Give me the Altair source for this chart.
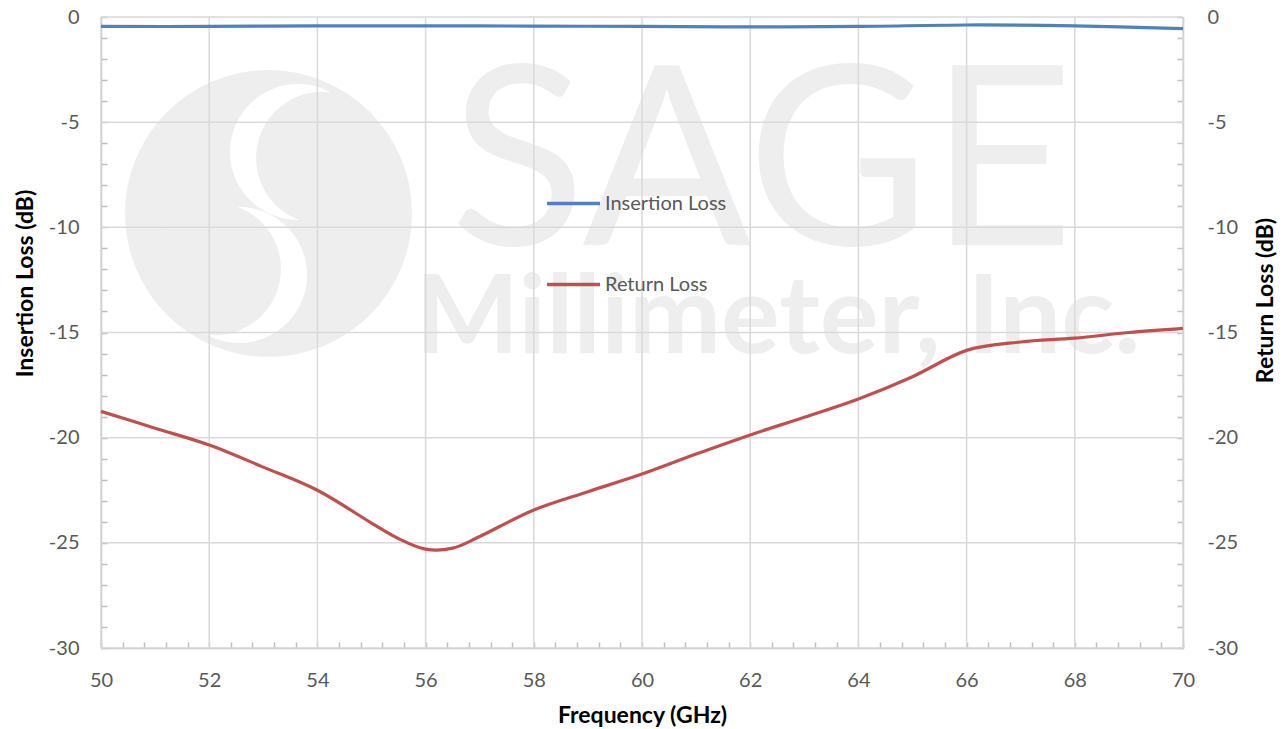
import altair as alt
import pandas as pd

# ---------------- data ----------------
series_names = ["Insertion Loss", "Return Loss"]
series_colors = ["#4F81BD", "#C0504D"]

il_freq = [50, 52, 54, 56, 58, 60, 62, 64, 66, 68, 70]
il_val = [-0.45, -0.45, -0.42, -0.42, -0.43, -0.45, -0.47, -0.45, -0.38, -0.42, -0.55]

rl_freq = [50, 51, 52, 53, 54, 55, 55.5, 56, 56.5, 57, 58, 59, 60, 61, 62, 63, 64, 65, 66, 67, 68, 69, 70]
rl_val = [-18.75, -19.55, -20.35, -21.4, -22.5, -24.06, -24.8, -25.3, -25.25, -24.7, -23.44, -22.57,
          -21.73, -20.78, -19.87, -19.03, -18.16, -17.1, -15.85, -15.45, -15.27, -15.0, -14.8]

x_major = [50, 52, 54, 56, 58, 60, 62, 64, 66, 68, 70]
x_minor = [50, 50.4, 50.8, 51.2, 51.6, 52, 52.4, 52.8, 53.2, 53.6, 54, 54.4, 54.8, 55.2, 55.6, 56,
           56.4, 56.8, 57.2, 57.6, 58, 58.4, 58.8, 59.2, 59.6, 60, 60.4, 60.8, 61.2, 61.6, 62, 62.4,
           62.8, 63.2, 63.6, 64, 64.4, 64.8, 65.2, 65.6, 66, 66.4, 66.8, 67.2, 67.6, 68, 68.4, 68.8,
           69.2, 69.6, 70]
y_major = [-30, -25, -20, -15, -10, -5, 0]
y_minor = list(range(-30, 1))

# watermark decoration (logo + company name)
wm_text = ["SAGE", "Millimeter, Inc."]

df = pd.concat([
    pd.DataFrame({"freq": il_freq, "val": il_val, "series": series_names[0]}),
    pd.DataFrame({"freq": rl_freq, "val": rl_val, "series": series_names[1]}),
])

FONT = "Lato"
LABEL_COLOR = "#595959"
GRID = "#d9d9d9"
DOMAIN = "#bfbfbf"
WM = "#eeeeee"

xs = alt.Scale(domain=[50, 70], nice=False, zero=False)
ys = alt.Scale(domain=[-30, 0], nice=False, zero=False)


def X(field="freq:Q", axis=None):
    return alt.X(field, scale=xs, axis=axis)


def Y(field="val:Q", axis=None):
    return alt.Y(field, scale=ys, axis=axis)


# ---------------- watermark ----------------
def disc(f, v, diameter_px, color):
    return alt.Chart(pd.DataFrame({"freq": [f], "val": [v]})).mark_point(
        filled=True, shape="circle", opacity=1, strokeWidth=0, color=color,
        size=diameter_px * diameter_px,
    ).encode(x=X(), y=Y())


logo = [
    disc(53.096, -9.343, 287, WM),
    disc(53.641, -6.419, 136, "#ffffff"),
    disc(54.086, -6.704, 132, WM),
    disc(52.551, -12.265, 136, "#ffffff"),
    disc(52.107, -11.98, 132, WM),
]

wm_df = pd.DataFrame({"t": wm_text, "freq": [62.218, 62.51], "val": [-10.84, -15.975]})
wm1 = alt.Chart(wm_df.iloc[[0]]).mark_text(
    font=FONT, fontSize=250, fontWeight="normal", color=WM, baseline="alphabetic", align="center"
).encode(x=X(), y=Y(), text="t:N")
wm2 = alt.Chart(wm_df.iloc[[1]]).mark_text(
    font=FONT, fontSize=110, fontWeight="bold", color=WM, baseline="alphabetic", align="center"
).encode(x=X(), y=Y(), text="t:N")

# ---------------- grid ----------------
gx = alt.Chart(pd.DataFrame({"freq": x_major})).mark_rule(color=GRID, strokeWidth=1.5).encode(x=X())
gy = alt.Chart(pd.DataFrame({"val": y_major})).mark_rule(color=GRID, strokeWidth=1.5).encode(y=Y())

# ---------------- axes ----------------
base = alt.Chart(df).mark_line(opacity=0)
LBL = "toString(datum.value)"

main_axes = base.encode(
    x=X(axis=alt.Axis(orient="bottom", values=x_major, grid=False, ticks=False, tickSize=0,
                      domain=True, domainColor=DOMAIN, domainWidth=1.5, labelPadding=22,
                      labelFlush=False, labelExpr=LBL, title="Frequency (GHz)",
                      titleY=67, titleBaseline="middle")),
    y=Y(axis=alt.Axis(orient="left", values=y_major, grid=False, ticks=False, tickSize=0,
                      domain=True, domainColor=DOMAIN, domainWidth=1.5, labelPadding=22,
                      labelFlush=False, labelExpr=LBL, title="Insertion Loss (dB)",
                      titleX=-76, titleY=266, titleAngle=270, titleBaseline="middle",
                      titleAlign="center")),
)

right_axis = base.encode(
    x=X(),
    y=Y(axis=alt.Axis(orient="right", values=y_major, grid=False, ticks=False, tickSize=0,
                      domain=True, domainColor=DOMAIN, domainWidth=1.5, labelPadding=24,
                      labelFlush=False, labelExpr=LBL, title="Return Loss (dB)",
                      titleX=82, titleY=283, titleAngle=270, titleBaseline="middle",
                      titleAlign="center")),
)

minor_left_bottom = base.encode(
    x=X(axis=alt.Axis(orient="bottom", values=x_minor, grid=False, ticks=True, tickSize=6,
                      tickColor=DOMAIN, tickWidth=1.5, domain=False, labels=False, title=None,
                      offset=-6)),
    y=Y(axis=alt.Axis(orient="left", values=y_minor, grid=False, ticks=True, tickSize=6,
                      tickColor=DOMAIN, tickWidth=1.5, domain=False, labels=False, title=None,
                      offset=-6)),
)

minor_right = base.encode(
    x=X(),
    y=Y(axis=alt.Axis(orient="right", values=y_minor, grid=False, ticks=True, tickSize=6,
                      tickColor=DOMAIN, tickWidth=1.5, domain=False, labels=False, title=None,
                      offset=-6)),
)

# ---------------- data lines ----------------
lines = alt.Chart(df).mark_line(strokeWidth=3.2, interpolate="cardinal").encode(
    x=X(), y=Y(),
    color=alt.Color("series:N",
                    scale=alt.Scale(domain=series_names, range=series_colors),
                    legend=alt.Legend(orient="none", legendX=444, legendY=158, title=None,
                                      symbolType="stroke", symbolSize=2809,
                                      symbolStrokeWidth=3.5, labelFont=FONT, labelFontSize=20,
                                      labelColor=LABEL_COLOR, labelOffset=3, rowPadding=42,
                                      padding=0)),
    detail="series:N",
)

chart = alt.layer(
    *logo, wm1, wm2, gx, gy, main_axes, right_axis, minor_left_bottom, minor_right, lines
).resolve_scale(
    x="independent", y="independent"
).resolve_axis(
    x="independent", y="independent"
).properties(
    width=1082, height=631,
    autosize=alt.AutoSizeParams(type="none"),
    padding={"left": 93, "top": 9, "right": 95, "bottom": 80},
).configure_axis(
    labelFont=FONT, labelFontSize=20, labelColor=LABEL_COLOR,
    titleFont=FONT, titleFontSize=23, titleFontWeight="bold", titleColor="#000000",
).configure_view(stroke=None)

chart.save("out.html", embed_options={"renderer": "svg", "actions": False})
